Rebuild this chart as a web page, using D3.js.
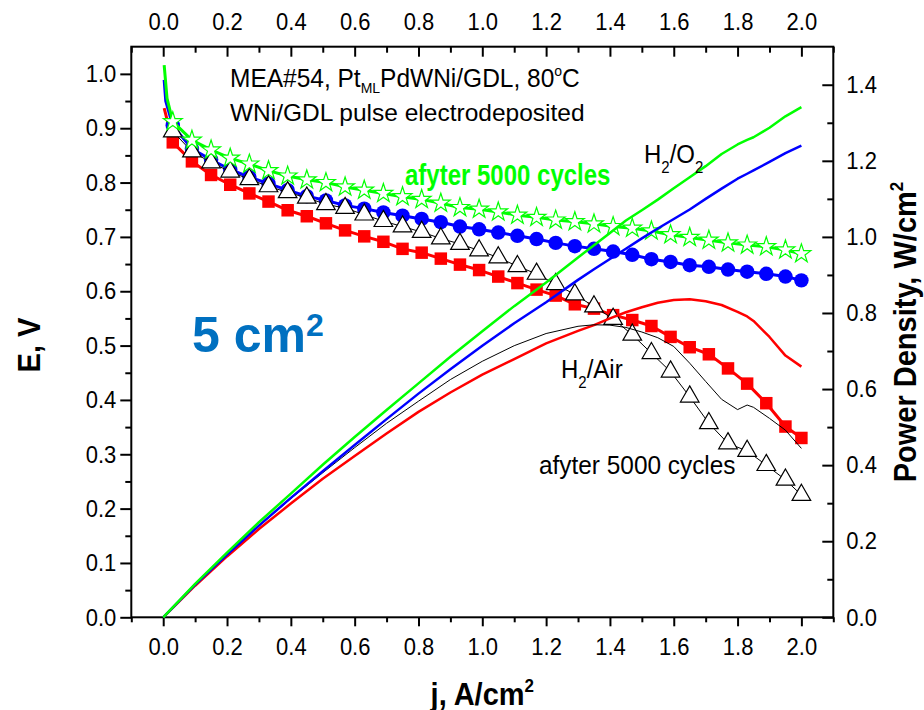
<!DOCTYPE html>
<html>
<head>
<meta charset="utf-8">
<script src="https://cdn.jsdelivr.net/npm/d3@7"></script>
<style>
  body { margin: 0; background: #fff; }
  svg { display: block; }
  text { font-family: Arial, "Liberation Sans", Helvetica, sans-serif; }
</style>
</head>
<body>
<svg id="chart" width="924" height="710"></svg>
<script>
// ---- polarization data (E, V) at the symbol current densities (A/cm2) ----
const jSym = [0.03, 0.09, 0.15, 0.21, 0.27, 0.33, 0.39, 0.45, 0.51, 0.57, 0.63, 0.69,
              0.75, 0.81, 0.87, 0.93, 0.99, 1.05, 1.11, 1.17, 1.23, 1.29, 1.35, 1.41,
              1.47, 1.53, 1.59, 1.65, 1.71, 1.77, 1.83, 1.89, 1.95, 2.00];

// H2/Air, initial (red squares)
const eAirInitial = [0.874, 0.839, 0.814, 0.796, 0.780, 0.765, 0.749, 0.738, 0.725, 0.712, 0.701, 0.691,
                     0.678, 0.671, 0.660, 0.649, 0.639, 0.627, 0.615, 0.603, 0.592, 0.576, 0.568, 0.556,
                     0.547, 0.536, 0.516, 0.497, 0.484, 0.458, 0.430, 0.394, 0.351, 0.330];
// H2/O2, initial (blue circles)
const eO2Initial = [0.905, 0.862, 0.842, 0.824, 0.810, 0.798, 0.786, 0.775, 0.767, 0.758, 0.752, 0.745,
                    0.739, 0.733, 0.727, 0.719, 0.714, 0.708, 0.702, 0.696, 0.689, 0.683, 0.678, 0.673,
                    0.667, 0.659, 0.654, 0.648, 0.645, 0.640, 0.636, 0.632, 0.627, 0.620];
// H2/Air, after 5000 cycles (open triangles)
const eAirCycled = [0.894, 0.857, 0.837, 0.820, 0.806, 0.793, 0.782, 0.772, 0.760, 0.753, 0.741, 0.729,
                    0.719, 0.709, 0.697, 0.687, 0.675, 0.662, 0.646, 0.632, 0.613, 0.594, 0.572, 0.549,
                    0.520, 0.486, 0.452, 0.406, 0.357, 0.320, 0.306, 0.280, 0.253, 0.225];
// H2/O2, after 5000 cycles (open stars)
const eO2Cycled = [0.912, 0.878, 0.860, 0.845, 0.834, 0.822, 0.812, 0.805, 0.800, 0.792, 0.786, 0.780,
                   0.774, 0.769, 0.762, 0.754, 0.751, 0.746, 0.740, 0.736, 0.731, 0.728, 0.724, 0.719,
                   0.716, 0.711, 0.704, 0.699, 0.694, 0.689, 0.685, 0.682, 0.676, 0.669];

// low-current lead-in of the polarization lines (no symbols)
const leadAirInitial = [[0.003, 0.937]];
const leadO2Initial  = [[0.003, 0.989], [0.008, 0.950]];
const leadO2Cycled   = [[0.003, 1.016], [0.012, 0.955]];

// ---- power density (W/cm2) ----
const jPow = [0.0, 0.1, 0.2, 0.3, 0.4, 0.5, 0.6, 0.7, 0.8, 0.9, 1.0, 1.1, 1.2, 1.3, 1.35, 1.4,
              1.45, 1.5, 1.55, 1.6, 1.65, 1.7, 1.75, 1.8, 1.83, 1.85, 1.9, 1.95, 2.0];
const pAirInitial = [0, 0.083, 0.160, 0.232, 0.299, 0.364, 0.424, 0.483, 0.540, 0.591, 0.638, 0.679,
                     0.720, 0.753, 0.768, 0.786, 0.802, 0.815, 0.827, 0.834, 0.836, 0.831, 0.821,
                     0.803, 0.791, 0.779, 0.737, 0.688, 0.659];
const pAirCycled  = [0, 0.085, 0.164, 0.240, 0.312, 0.380, 0.446, 0.510, 0.568, 0.625, 0.673, 0.714,
                     0.746, 0.765, 0.769, 0.768, 0.762, 0.750, 0.735, 0.712, 0.668, 0.620, 0.573,
                     0.546, 0.558, 0.552, 0.523, 0.492, 0.444];
const pO2Initial  = [0, 0.086, 0.165, 0.241, 0.314, 0.384, 0.453, 0.521, 0.588, 0.652, 0.714, 0.773,
                     0.828, 0.887, 0.915, 0.942, 0.969, 0.996, 1.022, 1.047, 1.072, 1.100, 1.127,
                     1.153, 1.166, 1.175, 1.197, 1.220, 1.240];
const pO2Cycled   = [0, 0.088, 0.170, 0.250, 0.325, 0.401, 0.474, 0.545, 0.615, 0.685, 0.752, 0.818,
                     0.880, 0.946, 0.978, 1.010, 1.043, 1.070, 1.098, 1.128, 1.157, 1.186, 1.218,
                     1.243, 1.255, 1.262, 1.287, 1.317, 1.341];

// ---- axis ticks ----
const jTicks      = [0.0, 0.2, 0.4, 0.6, 0.8, 1.0, 1.2, 1.4, 1.6, 1.8, 2.0];
const jMinorTicks = [-0.1, 0.1, 0.3, 0.5, 0.7, 0.9, 1.1, 1.3, 1.5, 1.7, 1.9, 2.1];
const eTicks      = [0.0, 0.1, 0.2, 0.3, 0.4, 0.5, 0.6, 0.7, 0.8, 0.9, 1.0];
const eMinorTicks = [0.05, 0.15, 0.25, 0.35, 0.45, 0.55, 0.65, 0.75, 0.85, 0.95];
const pTicks      = [0.0, 0.2, 0.4, 0.6, 0.8, 1.0, 1.2, 1.4];
const pMinorTicks = [0.1, 0.3, 0.5, 0.7, 0.9, 1.1, 1.3];

const RED = "#ff0000", BLUE = "#0000ff", GREEN = "#00ff00", BLACK = "#000000";
const FONT = "Arial, 'Liberation Sans', Helvetica, sans-serif";
const TICK_STRETCH = 1.1;   // tick labels are drawn slightly tall

const svg = d3.select("#chart");
const frame = { left: 131.3, right: 833.3, top: 46.7, bottom: 617.3 };

const x  = d3.scaleLinear().domain([-0.1, 2.1]).range([frame.left, frame.right]);
const yE = d3.scaleLinear().domain([0, 1.05]).range([frame.bottom, frame.top]);
const yP = d3.scaleLinear().domain([0, 1.5]).range([frame.bottom, frame.top]);
const fmt = d3.format(".1f");

// ---- axes ----
function addAxis(axis, tx, ty, showText) {
  const g = svg.append("g").attr("transform", `translate(${tx},${ty})`).call(axis);
  g.select(".domain").remove();
  g.selectAll("line").attr("stroke", BLACK).attr("stroke-width", 2);
  if (!showText) { g.selectAll("text").remove(); return g; }
  g.selectAll("text")
    .attr("font-size", 22).attr("font-family", FONT).attr("fill", BLACK)
    .each(function () {
      const t = d3.select(this);
      const yy = +t.attr("y") || 0;
      t.attr("y", yy / TICK_STRETCH).attr("transform", `scale(1,${TICK_STRETCH})`);
    });
  return g;
}

// bottom: outward ticks
addAxis(d3.axisBottom(x).tickValues(jTicks).tickFormat(fmt).tickSize(9).tickPadding(12), 0, frame.bottom, true);
addAxis(d3.axisBottom(x).tickValues(jMinorTicks).tickFormat("").tickSize(5), 0, frame.bottom, false);
// top: inward ticks
addAxis(d3.axisTop(x).tickValues(jTicks).tickFormat(fmt).tickSize(-10).tickPadding(17), 0, frame.top, true);
addAxis(d3.axisTop(x).tickValues(jMinorTicks).tickFormat("").tickSize(-6), 0, frame.top, false);
// left: outward ticks
addAxis(d3.axisLeft(yE).tickValues(eTicks).tickFormat(fmt).tickSize(11).tickPadding(4), frame.left, 0, true);
addAxis(d3.axisLeft(yE).tickValues(eMinorTicks).tickFormat("").tickSize(6), frame.left, 0, false);
// right: inward ticks
addAxis(d3.axisRight(yP).tickValues(pTicks).tickFormat(fmt).tickSize(-11).tickPadding(13), frame.right, 0, true);
addAxis(d3.axisRight(yP).tickValues(pMinorTicks).tickFormat("").tickSize(-6), frame.right, 0, false);

svg.append("rect")
  .attr("x", frame.left).attr("y", frame.top)
  .attr("width", frame.right - frame.left).attr("height", frame.bottom - frame.top)
  .attr("fill", "none").attr("stroke", BLACK).attr("stroke-width", 2);

// ---- polarization curves ----
const lineE = d3.line().x(d => x(d[0])).y(d => yE(d[1]));
const lineP = d3.line().x(d => x(d[0])).y(d => yP(d[1]));
const zip = (xs, ys) => xs.map((v, i) => [v, ys[i]]);

function polarization(lead, values, color, width, symbolType, symbolSize, fill, stroke, strokeW) {
  const pts = zip(jSym, values);
  svg.append("path").datum(lead.concat(pts))
    .attr("d", lineE).attr("fill", "none")
    .attr("stroke", color).attr("stroke-width", width).attr("stroke-linejoin", "round");
  const sym = d3.symbol().type(symbolType).size(symbolSize);
  svg.append("g").selectAll("path").data(pts).join("path")
    .attr("transform", d => `translate(${x(d[0])},${yE(d[1])})`)
    .attr("d", sym)
    .attr("fill", fill).attr("stroke", stroke).attr("stroke-width", strokeW);
}

polarization(leadAirInitial, eAirInitial, RED, 3, d3.symbolSquare, 156, RED, "none", 0);
polarization(leadO2Initial, eO2Initial, BLUE, 3, d3.symbolCircle, 165, BLUE, "none", 0);
polarization([], eAirCycled, BLACK, 1, d3.symbolTriangle, 150, "#ffffff", BLACK, 1.2);
polarization(leadO2Cycled, eO2Cycled, GREEN, 3, d3.symbolStar, 110, "#ffffff", GREEN, 1.2);

// ---- power density curves ----
[[pAirInitial, RED, 2.5], [pAirCycled, BLACK, 1], [pO2Initial, BLUE, 2.5], [pO2Cycled, GREEN, 2.5]]
  .forEach(([vals, color, w]) => {
    svg.append("path").datum(zip(jPow, vals))
      .attr("d", lineP).attr("fill", "none")
      .attr("stroke", color).attr("stroke-width", w).attr("stroke-linejoin", "round");
  });

// ---- labels (positioned at the baseline, optionally stretched vertically) ----
function label(xp, yp, parts, opts = {}) {
  const sy = opts.stretch || 1;
  const g = svg.append("g")
    .attr("transform", `translate(${xp},${yp}) rotate(${opts.rotate || 0}) scale(1,${sy})`);
  const t = g.append("text").attr("x", 0).attr("y", 0)
    .attr("font-size", opts.size || 24).attr("font-family", FONT)
    .attr("font-weight", opts.weight || "normal").attr("fill", opts.fill || BLACK);
  if (opts.anchor) t.attr("text-anchor", opts.anchor);
  parts.forEach(p => {
    const s = t.append("tspan").text(p.t);
    if (p.dy) s.attr("dy", p.dy);
    if (p.size) s.attr("font-size", p.size);
  });
  return t;
}

label(230, 87, [
  { t: "MEA#54, Pt" }, { t: "ML", size: 14, dy: 6 }, { t: "PdWNi/GDL, 80", dy: -6 },
  { t: "o", size: 14, dy: -10 }, { t: "C", dy: 10 }
], { size: 24.5, stretch: 1.06 });
label(230, 121, [{ t: "WNi/GDL pulse electrodeposited" }], { size: 24.5 });

label(405, 185, [{ t: "afyter 5000 cycles" }], { size: 24, weight: "bold", fill: GREEN, stretch: 1.2 });
label(644, 163, [{ t: "H" }, { t: "2", size: 15, dy: 9 }, { t: "/O", dy: -9 }, { t: "2", size: 15, dy: 9 }],
  { size: 24, stretch: 1.08 });
label(561, 378, [{ t: "H" }, { t: "2", size: 15, dy: 9 }, { t: "/Air", dy: -9 }], { size: 24, stretch: 1.08 });
label(539, 474, [{ t: "afyter 5000 cycles" }], { size: 24.4, stretch: 1.05 });

label(192, 352, [{ t: "5 cm" }, { t: "2", size: 32, dy: -16 }], { size: 50, weight: "bold", fill: "#0070c0" });

// axis titles
label(482.3, 705, [{ t: "j, A/cm" }, { t: "2", size: 17, dy: -12 }],
  { size: 29, weight: "bold", anchor: "middle", stretch: 1.05 });
label(40, 345, [{ t: "E, V" }], { size: 29, weight: "bold", anchor: "middle", rotate: -90, stretch: 1.05 });
label(916, 332, [{ t: "Power Density, W/cm" }, { t: "2", size: 17, dy: -12 }],
  { size: 29, weight: "bold", anchor: "middle", rotate: -90, stretch: 1.05 });
</script>
</body>
</html>
